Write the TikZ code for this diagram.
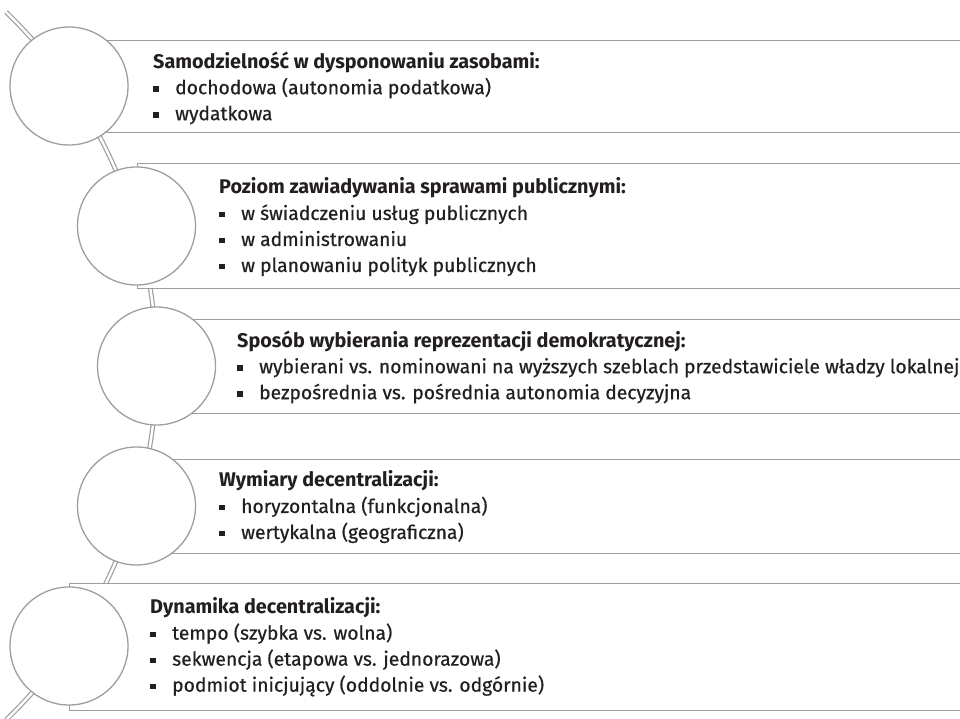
\documentclass[tikz,border=0pt]{standalone}
\usepackage{fontspec}
\setmainfont{Fira Sans}[FakeBold=0.5]
\newfontfamily\headfont{Fira Sans Bold}
\definecolor{rim}{HTML}{9E9E9E}
\definecolor{ink}{HTML}{231F20}
\newcommand\pkt{\makebox[22pt][l]{\rule[2.5pt]{5.5pt}{5.5pt}}}
\newcommand\hd[1]{{\headfont\fontsize{19.8}{26}\selectfont #1}}
\begin{document}
\begin{tikzpicture}[x=1pt,y=-1pt,
  panel/.style={draw=rim,line width=1.3pt,fill=white,rectangle,inner sep=0pt,anchor=north west},
  disc/.style={draw=rim,line width=1.3pt,fill=white,circle,inner sep=0pt,minimum size=118pt},
  spine/.style={draw=rim,line width=1.2pt,double=white,double distance=2.4pt},
  txt/.style={anchor=west,align=left,inner sep=0pt,text=ink,
    font=\fontsize{19.3}{26}\selectfont}]
\useasboundingbox (0,0) rectangle (960,718);
\clip (0,0) rectangle (960,718);
% curved backbone through the circle centres
\coordinate (sp0) at (6.0,12.0);
\draw[spine] (sp0) arc[start angle=-46.05,end angle=46.05,radius=491.7];
% panels
\node[panel,minimum width=910pt,minimum height=92pt]  (b1) at (69,40) {};
\node[panel,minimum width=840pt,minimum height=125pt] (b2) at (136.5,163) {};
\node[panel,minimum width=820pt,minimum height=94pt]  (b3) at (156.5,319) {};
\node[panel,minimum width=840pt,minimum height=94pt]  (b4) at (136.5,459) {};
\node[panel,minimum width=910pt,minimum height=127pt] (b5) at (69,583) {};
% circles
\node[disc] (c1) at (69,86) {};
\node[disc] (c2) at (136.5,226) {};
\node[disc] (c3) at (156.5,366) {};
\node[disc] (c4) at (136.5,506) {};
\node[disc] (c5) at (69,646) {};
% texts
\node[txt] (t1) at (153,88) {\hd{Samodzielność w dysponowaniu zasobami:}\\
  \pkt dochodowa (autonomia podatkowa)\\
  \pkt wydatkowa};
\node[txt] (t2) at (219,227) {\hd{Poziom zawiadywania sprawami publicznymi:}\\
  \pkt w świadczeniu usług publicznych\\
  \pkt w administrowaniu\\
  \pkt w planowaniu polityk publicznych};
\node[txt] (t3) at (237,367) {\hd{Sposób wybierania reprezentacji demokratycznej:}\\
  \pkt wybierani vs. nominowani na wyższych szeblach przedstawiciele władzy lokalnej\\
  \pkt bezpośrednia vs. pośrednia autonomia decyzyjna};
\node[txt] (t4) at (219,507) {\hd{Wymiary decentralizacji:}\\
  \pkt horyzontalna (funkcjonalna)\\
  \pkt wertykalna (geograficzna)};
\node[txt] (t5) at (150,647) {\hd{Dynamika decentralizacji:}\\
  \pkt tempo (szybka vs. wolna)\\
  \pkt sekwencja (etapowa vs. jednorazowa)\\
  \pkt podmiot inicjujący (oddolnie vs. odgórnie)};
\end{tikzpicture}
\end{document}
